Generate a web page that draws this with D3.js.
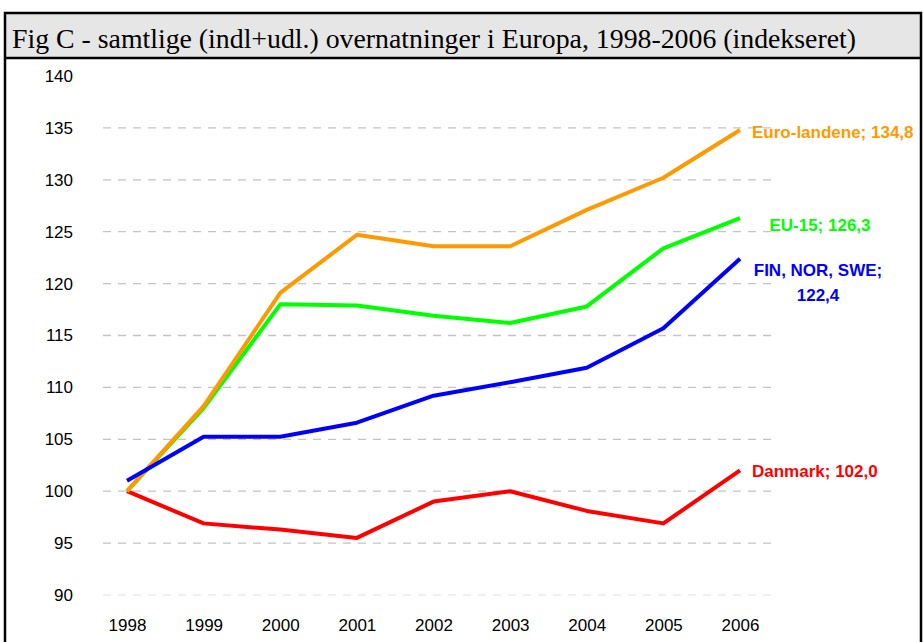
<!DOCTYPE html>
<html>
<head>
<meta charset="utf-8">
<script src="https://cdn.jsdelivr.net/npm/d3@7"></script>
<style>
  body { margin: 0; background: #fff; }
  svg { display: block; }
</style>
</head>
<body>
<script>
var w = 923;
var h = 642;

var title = "Fig C - samtlige (indl+udl.) overnatninger i Europa, 1998-2006 (indekseret)";

var years = ["1998", "1999", "2000", "2001", "2002", "2003", "2004", "2005", "2006"];
var yTicks = [90, 95, 100, 105, 110, 115, 120, 125, 130, 135, 140];

// index values
var danmark = [100, 96.9, 96.3, 95.5, 99.0, 100.0, 98.1, 96.9, 102.0];
var eu15 = [100, 108.0, 118.0, 117.9, 116.9, 116.2, 117.8, 123.4, 126.3];
var euro = [100, 108.2, 119.1, 124.7, 123.6, 123.6, 127.1, 130.2, 134.8];
var nordic = [101.0, 105.25, 105.25, 106.6, 109.2, 110.5, 111.9, 115.7, 122.4];

var series = [
  { name: "Danmark", values: danmark, color: "#ff0000", label: ["Danmark; 102,0"] },
  { name: "EU-15", values: eu15, color: "#00ff00", label: ["EU-15; 126,3"] },
  { name: "Euro", values: euro, color: "#ff9900", label: ["Euro-landene; 134,8"] },
  { name: "Nordic", values: nordic, color: "#0000ff", label: ["FIN, NOR, SWE;", "122,4"] }
];

var svg = d3.select("body").append("svg").attr("width", w).attr("height", h);

//Frame and title band
svg.append("rect")
  .attr("x", 5).attr("y", 13)
  .attr("width", w - 7).attr("height", 45)
  .attr("fill", "#e6e6e6");
svg.append("path")
  .attr("d", "M5," + h + "V13H" + (w - 2) + "V" + h)
  .attr("fill", "none").attr("stroke", "#000").attr("stroke-width", 2.5);
svg.append("line")
  .attr("x1", 5).attr("x2", w - 2).attr("y1", 58).attr("y2", 58)
  .attr("stroke", "#000").attr("stroke-width", 2.5);
svg.append("text")
  .attr("x", 12).attr("y", 48)
  .attr("font-family", "'Liberation Serif', 'Times New Roman', serif")
  .attr("font-size", "27.8px")
  .attr("fill", "#000")
  .text(title);

//Scales
var xScale = d3.scalePoint().domain(years).range([127, 740]);
var yScale = d3.scaleLinear().domain([90, 140]).range([595, 76]);

//Gridlines
svg.append("g")
  .selectAll("line")
  .data(yTicks.filter(function (d) { return d < 140; }))
  .enter()
  .append("line")
  .attr("x1", 103).attr("x2", 772)
  .attr("y1", function (d) { return yScale(d); })
  .attr("y2", function (d) { return yScale(d); })
  .attr("stroke", function (d) { return d === 90 ? "#ececec" : "#c4c4c4"; })
  .attr("stroke-width", 1.3)
  .attr("stroke-dasharray", "8,7");

//Y axis labels
var yAxis = d3.axisLeft(yScale).tickValues(yTicks).tickSize(0).tickPadding(0);
var gy = svg.append("g").attr("transform", "translate(73,0)").call(yAxis);
gy.select(".domain").remove();
gy.selectAll("text")
  .attr("font-family", "'Liberation Sans', Arial, sans-serif")
  .attr("font-size", "17px")
  .attr("fill", "#000");

//X axis labels
var xAxis = d3.axisBottom(xScale).tickSize(0).tickPadding(0);
var gx = svg.append("g").attr("transform", "translate(0,619)").call(xAxis);
gx.select(".domain").remove();
gx.selectAll("text")
  .attr("font-family", "'Liberation Sans', Arial, sans-serif")
  .attr("font-size", "17px")
  .attr("fill", "#000");

//Lines
var line = d3.line()
  .x(function (d, i) { return xScale(years[i]); })
  .y(function (d) { return yScale(d); });

svg.selectAll("path.series")
  .data(series)
  .enter()
  .append("path")
  .attr("class", "series")
  .attr("d", function (d) { return line(d.values); })
  .attr("fill", "none")
  .attr("stroke", function (d) { return d.color; })
  .attr("stroke-width", 4)
  .attr("stroke-linejoin", "round");

//End labels
var labelPos = {
  "Danmark": { x: 752, anchor: "start", dy: 1 },
  "EU-15": { x: 820, anchor: "middle", dy: 7 },
  "Euro": { x: 752, anchor: "start", dy: 2 },
  "Nordic": { x: 818, anchor: "middle", dy: 11 }
};

series.forEach(function (s) {
  var p = labelPos[s.name];
  var last = s.values[s.values.length - 1];
  var t = svg.append("text")
    .attr("font-family", "'Liberation Sans', Arial, sans-serif")
    .attr("font-size", "17px")
    .attr("font-weight", "bold")
    .attr("fill", s.color)
    .attr("text-anchor", p.anchor);
  s.label.forEach(function (l, i) {
    t.append("tspan")
      .attr("x", p.x)
      .attr("y", yScale(last) + p.dy + 6 + i * 25)
      .text(l);
  });
});
</script>
</body>
</html>
